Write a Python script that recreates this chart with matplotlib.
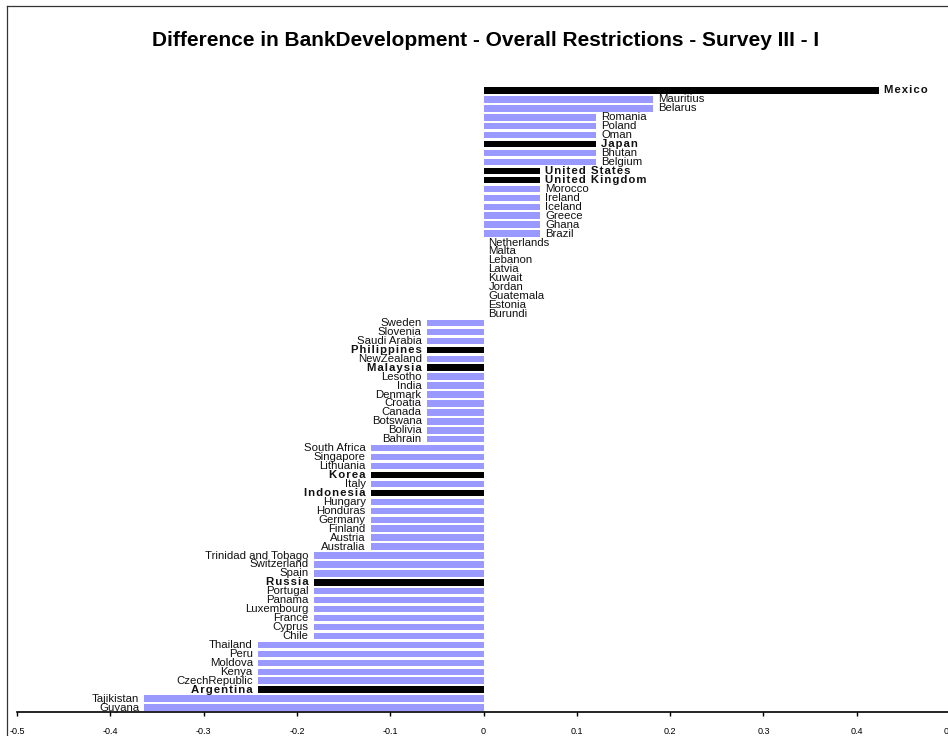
import matplotlib
matplotlib.use('Agg')
import matplotlib.pyplot as plt
from matplotlib.lines import Line2D

plt.rcParams['font.family'] = ['Liberation Sans', 'DejaVu Sans']

countries = ['Mexico', 'Mauritius', 'Belarus', 'Romania', 'Poland', 'Oman', 'Japan',
             'Bhutan', 'Belgium', 'United States', 'United Kingdom', 'Morocco', 'Ireland',
             'Iceland', 'Greece', 'Ghana', 'Brazil', 'Netherlands', 'Malta', 'Lebanon',
             'Latvia', 'Kuwait', 'Jordan', 'Guatemala', 'Estonia', 'Burundi', 'Sweden',
             'Slovenia', 'Saudi Arabia', 'Philippines', 'NewZealand', 'Malaysia', 'Lesotho',
             'India', 'Denmark', 'Croatia', 'Canada', 'Botswana', 'Bolivia', 'Bahrain',
             'South Africa', 'Singapore', 'Lithuania', 'Korea', 'Italy', 'Indonesia',
             'Hungary', 'Honduras', 'Germany', 'Finland', 'Austria', 'Australia',
             'Trinidad and Tobago', 'Switzerland', 'Spain', 'Russia', 'Portugal', 'Panama',
             'Luxembourg', 'France', 'Cyprus', 'Chile', 'Thailand', 'Peru', 'Moldova',
             'Kenya', 'CzechRepublic', 'Argentina', 'Tajikistan', 'Guyana']

values = [0.424, 0.182, 0.182, 0.121, 0.121, 0.121, 0.121, 0.121, 0.121,
          0.061, 0.061, 0.061, 0.061, 0.061, 0.061, 0.061, 0.061,
          0, 0, 0, 0, 0, 0, 0, 0, 0,
          -0.061, -0.061, -0.061, -0.061, -0.061, -0.061, -0.061, -0.061, -0.061,
          -0.061, -0.061, -0.061, -0.061, -0.061,
          -0.121, -0.121, -0.121, -0.121, -0.121, -0.121, -0.121, -0.121, -0.121,
          -0.121, -0.121, -0.121,
          -0.182, -0.182, -0.182, -0.182, -0.182, -0.182, -0.182, -0.182, -0.182, -0.182,
          -0.242, -0.242, -0.242, -0.242, -0.242, -0.242,
          -0.364, -0.364]

highlight = ['Mexico', 'Japan', 'United States', 'United Kingdom', 'Philippines',
             'Malaysia', 'Korea', 'Indonesia', 'Russia', 'Argentina']

xticks = [-0.5, -0.4, -0.3, -0.2, -0.1, 0, 0.1, 0.2, 0.3, 0.4, 0.5]

fig = plt.figure(figsize=(9.48, 7.36), dpi=100)
ax = fig.add_axes([17 / 948, 1 - 712 / 736, 933 / 948, 626 / 736])

n = len(countries)
ypos = list(range(n))
colors = ['black' if c in highlight else '#9999ff' for c in countries]
ax.barh(ypos, values, height=0.72, color=colors)

for y, c, v in zip(ypos, countries, values):
    if c in highlight:
        label = '\u200a'.join(c)
        weight = 'bold'
        size = 8.2
    else:
        label = c
        weight = 'normal'
        size = 8.2
    if v < 0:
        ax.annotate(label, (v, y), xytext=(-3.5, 0), textcoords='offset points',
                    ha='right', va='center', fontsize=size, fontweight=weight, color='#111111')
    else:
        ax.annotate(label, (v, y), xytext=(3.5, 0), textcoords='offset points',
                    ha='left', va='center', fontsize=size, fontweight=weight, color='#111111')

ax.set_xlim(-0.5, 0.5)
ax.set_ylim(n - 0.5, -0.5)
ax.set_xticks(xticks)
ax.set_xticklabels([('%g' % t) for t in xticks], fontsize=6.5)
ax.set_yticks([])
for s in ['top', 'right', 'left']:
    ax.spines[s].set_visible(False)
ax.spines['bottom'].set_linewidth(1.2)
ax.tick_params(axis='x', direction='out', length=3, width=1, pad=8)

fig.text(486 / 948, 1 - 40 / 736,
         'Difference in BankDevelopment - Overall Restrictions - Survey III - I',
         ha='center', va='center', fontsize=15, fontweight='bold')

fig.add_artist(Line2D([7 / 948, 7 / 948], [0, 1 - 6 / 736], transform=fig.transFigure,
                      color='#333333', lw=0.9))
fig.add_artist(Line2D([7 / 948, 1], [1 - 6 / 736, 1 - 6 / 736], transform=fig.transFigure,
                      color='#333333', lw=0.9))

fig.savefig('out.png', dpi=100)
